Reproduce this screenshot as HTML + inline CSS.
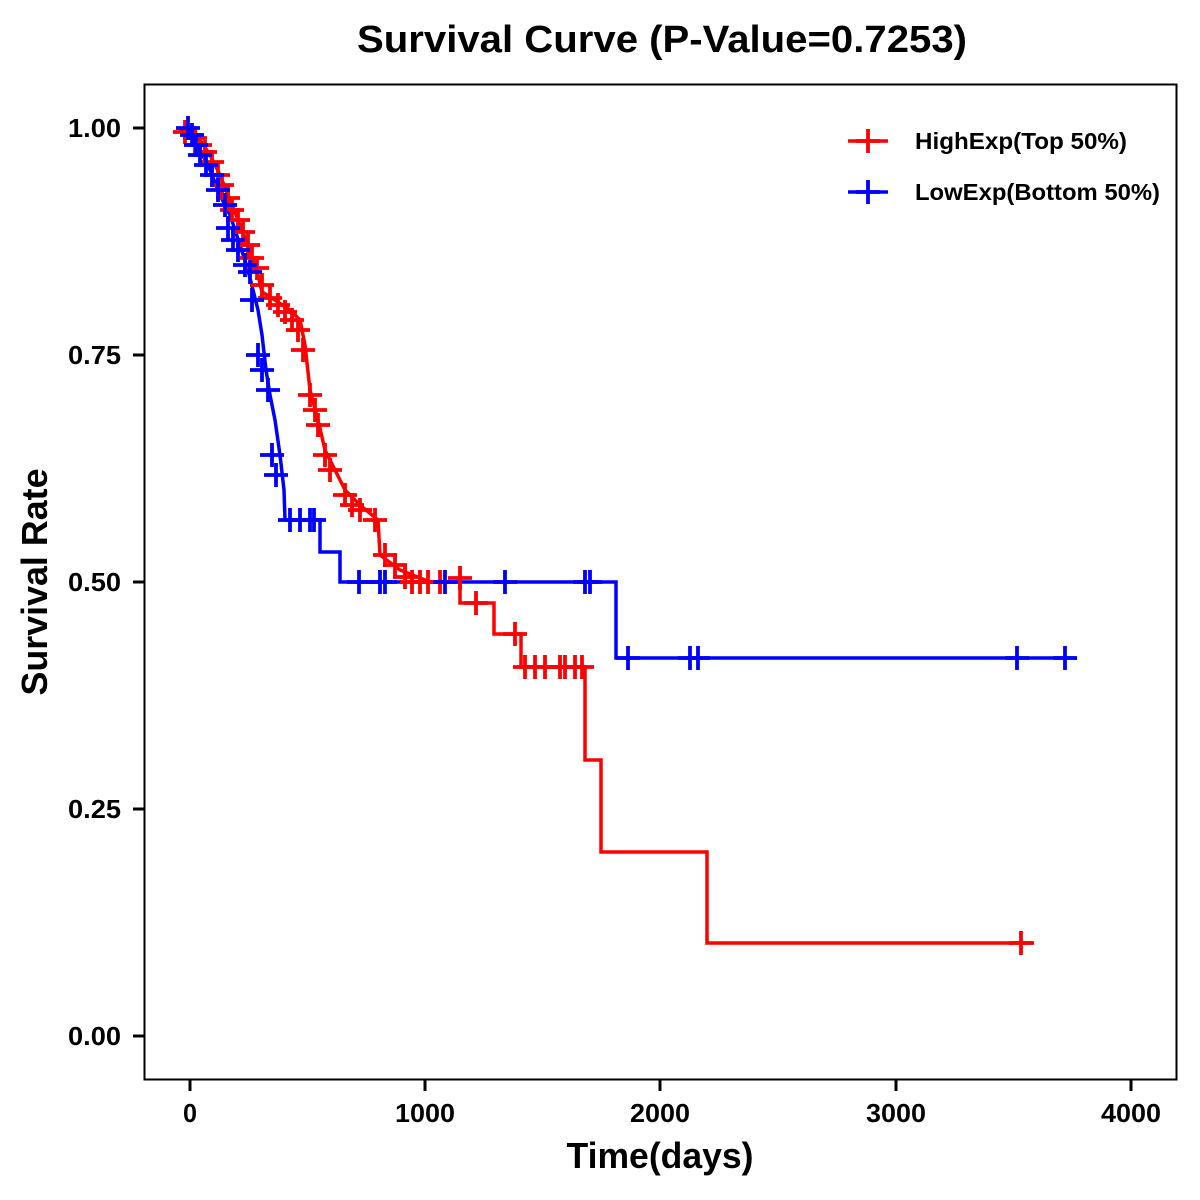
<!DOCTYPE html>
<html><head><meta charset="utf-8"><style>html,body{margin:0;padding:0;background:#fff}svg{display:block}text{font-family:"Liberation Sans",Arial,sans-serif;font-weight:bold;fill:#000}</style></head>
<body>
<svg width="1200" height="1200" viewBox="0 0 1200 1200" xmlns="http://www.w3.org/2000/svg">
<defs>
<path id="cr" d="M-12 0H12M0 -12V12" stroke-width="3.8"/>
</defs>
<rect x="0" y="0" width="1200" height="1200" fill="#fff"/>
<text x="662" y="52" font-size="38" text-anchor="middle" textLength="610" lengthAdjust="spacingAndGlyphs">Survival Curve (P-Value=0.7253)</text>
<rect x="144.5" y="84.5" width="1032" height="995" fill="none" stroke="#000" stroke-width="2"/>
<g stroke="#000" stroke-width="3">
<line x1="133" y1="128" x2="144" y2="128"/><line x1="133" y1="355" x2="144" y2="355"/><line x1="133" y1="582" x2="144" y2="582"/><line x1="133" y1="809" x2="144" y2="809"/><line x1="133" y1="1036" x2="144" y2="1036"/>
<line x1="190" y1="1080" x2="190" y2="1091"/><line x1="425" y1="1080" x2="425" y2="1091"/><line x1="660" y1="1080" x2="660" y2="1091"/><line x1="896" y1="1080" x2="896" y2="1091"/><line x1="1131" y1="1080" x2="1131" y2="1091"/>
</g>
<g font-size="26" text-anchor="end">
<text x="121" y="137" textLength="53" lengthAdjust="spacingAndGlyphs">1.00</text><text x="121" y="364" textLength="53" lengthAdjust="spacingAndGlyphs">0.75</text><text x="121" y="591" textLength="53" lengthAdjust="spacingAndGlyphs">0.50</text><text x="121" y="818" textLength="53" lengthAdjust="spacingAndGlyphs">0.25</text><text x="121" y="1045" textLength="53" lengthAdjust="spacingAndGlyphs">0.00</text>
</g>
<g font-size="26" text-anchor="middle">
<text x="190" y="1122" textLength="14" lengthAdjust="spacingAndGlyphs">0</text><text x="425" y="1122" textLength="60" lengthAdjust="spacingAndGlyphs">1000</text><text x="660" y="1122" textLength="60" lengthAdjust="spacingAndGlyphs">2000</text><text x="896" y="1122" textLength="60" lengthAdjust="spacingAndGlyphs">3000</text><text x="1131" y="1122" textLength="60" lengthAdjust="spacingAndGlyphs">4000</text>
</g>
<text x="660" y="1168" font-size="36" text-anchor="middle" textLength="187" lengthAdjust="spacingAndGlyphs">Time(days)</text>
<text transform="translate(47,582) rotate(-90)" font-size="36" text-anchor="middle" textLength="227" lengthAdjust="spacingAndGlyphs">Survival Rate</text>
<polyline fill="none" stroke="#f00" stroke-width="3.5" points="180,128 190,132 200,140 210,155 220,175 230,200 240,225 250,250 258,275 262,292 275,300 290,310 300,320 305,345 310,390 318,420 325,450 335,470 345,490 360,505 378,520 380,555 400,570 420,578 430,582 460,582 460,603 494,603 494,634 521,634 521,667 585,667 585,760 601,760 601,852 707,852 707,943 1034,943"/>
<polyline fill="none" stroke="#00f" stroke-width="3.5" points="180,128 190,135 200,150 210,170 220,195 230,215 240,245 248,270 253,290 258,310 262,335 266,370 270,395 275,420 280,455 284,490 285,520 320,520 320,552 340,552 340,582 616,582 616,658 1077,658"/>
<g stroke="#f00">
<use href="#cr" x="185" y="132"/><use href="#cr" x="195" y="138"/><use href="#cr" x="200" y="145"/><use href="#cr" x="205" y="152"/><use href="#cr" x="212" y="162"/><use href="#cr" x="218" y="175"/><use href="#cr" x="222" y="185"/><use href="#cr" x="228" y="198"/><use href="#cr" x="232" y="210"/><use href="#cr" x="238" y="220"/><use href="#cr" x="243" y="232"/><use href="#cr" x="248" y="245"/><use href="#cr" x="252" y="258"/><use href="#cr" x="257" y="268"/><use href="#cr" x="262" y="285"/><use href="#cr" x="270" y="298"/><use href="#cr" x="278" y="305"/><use href="#cr" x="285" y="312"/><use href="#cr" x="292" y="320"/><use href="#cr" x="298" y="330"/><use href="#cr" x="303" y="350"/><use href="#cr" x="310" y="395"/><use href="#cr" x="315" y="410"/><use href="#cr" x="318" y="425"/><use href="#cr" x="325" y="455"/><use href="#cr" x="330" y="470"/><use href="#cr" x="345" y="495"/><use href="#cr" x="352" y="505"/><use href="#cr" x="360" y="510"/><use href="#cr" x="375" y="520"/><use href="#cr" x="385" y="555"/><use href="#cr" x="395" y="565"/><use href="#cr" x="405" y="577"/><use href="#cr" x="412" y="582"/><use href="#cr" x="420" y="582"/><use href="#cr" x="428" y="582"/><use href="#cr" x="440" y="582"/><use href="#cr" x="460" y="578"/><use href="#cr" x="476" y="603"/><use href="#cr" x="515" y="634"/><use href="#cr" x="525" y="667"/><use href="#cr" x="535" y="667"/><use href="#cr" x="545" y="667"/><use href="#cr" x="560" y="667"/><use href="#cr" x="565" y="667"/><use href="#cr" x="575" y="667"/><use href="#cr" x="582" y="667"/><use href="#cr" x="1021" y="943"/>
<use href="#cr" x="868" y="141"/>
</g>
<g stroke="#00f">
<use href="#cr" x="188" y="128"/><use href="#cr" x="192" y="135"/><use href="#cr" x="196" y="145"/><use href="#cr" x="200" y="155"/><use href="#cr" x="206" y="165"/><use href="#cr" x="212" y="175"/><use href="#cr" x="218" y="190"/><use href="#cr" x="225" y="205"/><use href="#cr" x="228" y="228"/><use href="#cr" x="233" y="240"/><use href="#cr" x="238" y="250"/><use href="#cr" x="245" y="265"/><use href="#cr" x="250" y="272"/><use href="#cr" x="252" y="300"/><use href="#cr" x="258" y="355"/><use href="#cr" x="262" y="370"/><use href="#cr" x="268" y="390"/><use href="#cr" x="272" y="455"/><use href="#cr" x="276" y="475"/><use href="#cr" x="290" y="520"/><use href="#cr" x="300" y="520"/><use href="#cr" x="310" y="520"/><use href="#cr" x="314" y="520"/><use href="#cr" x="359" y="582"/><use href="#cr" x="380" y="582"/><use href="#cr" x="385" y="582"/><use href="#cr" x="445" y="582"/><use href="#cr" x="505" y="582"/><use href="#cr" x="585" y="582"/><use href="#cr" x="590" y="582"/><use href="#cr" x="628" y="658"/><use href="#cr" x="690" y="658"/><use href="#cr" x="698" y="658"/><use href="#cr" x="1017" y="658"/><use href="#cr" x="1065" y="658"/>
<use href="#cr" x="868" y="192"/>
</g>
<line x1="848" y1="141" x2="888" y2="141" stroke="#f00" stroke-width="3.5"/>
<line x1="848" y1="192" x2="888" y2="192" stroke="#00f" stroke-width="3.5"/>
<text x="915" y="149" font-size="23" textLength="212" lengthAdjust="spacingAndGlyphs">HighExp(Top 50%)</text>
<text x="915" y="200" font-size="23" textLength="245" lengthAdjust="spacingAndGlyphs">LowExp(Bottom 50%)</text>
</svg>
</body></html>
